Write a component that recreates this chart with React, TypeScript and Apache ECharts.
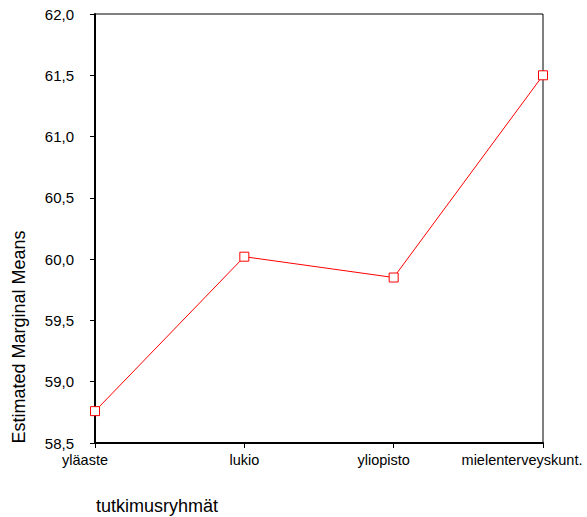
import React, { useEffect, useRef } from "react";
import * as echarts from "echarts";

const categories = ["yläaste", "lukio", "yliopisto", "mielenterveyskunt."];
const means = [58.76, 60.02, 59.85, 61.5];
const labelShift = [20, 0, 20, 42];
const yMin = 58.5;
const yMax = 62.0;
const yStep = 0.5;
const yTitle = "Estimated Marginal Means";
const xTitle = "tutkimusryhmät";

const FONT = "'Liberation Sans', Arial, sans-serif";

export default function App() {
  const ref = useRef<HTMLDivElement>(null);
  useEffect(() => {
    if (!ref.current) return;
    const chart = echarts.init(ref.current, undefined, { renderer: "svg" });
    chart.setOption({
      animation: false,
      backgroundColor: "#ffffff",
      grid: { left: 95, right: 44, top: 14, bottom: 74, containLabel: false },
      xAxis: {
        type: "category",
        boundaryGap: false,
        data: categories.map((c, i) => ({
          value: c,
          textStyle: { padding: [0, labelShift[i], 0, 0] },
        })),
        axisLine: { show: true, lineStyle: { color: "#000", width: 2 } },
        axisTick: { show: true, alignWithLabel: true, length: 5, lineStyle: { color: "#000", width: 1 } },
        axisLabel: { color: "#000", fontFamily: FONT, fontSize: 14.5, margin: 9, interval: 0 },
        splitLine: { show: false },
      },
      yAxis: {
        type: "value",
        min: yMin,
        max: yMax,
        interval: yStep,
        axisLine: { show: true, lineStyle: { color: "#000", width: 2 } },
        axisTick: { show: true, length: 5, lineStyle: { color: "#000", width: 1 } },
        axisLabel: {
          color: "#000",
          fontFamily: FONT,
          fontSize: 15,
          margin: 21,
          formatter: (v: number) => v.toFixed(1).replace(".", ","),
        },
        splitLine: { show: false },
      },
      graphic: [
        {
          type: "rect",
          shape: { x: 95, y: 14, width: 448, height: 429 },
          style: { fill: "none", stroke: "#000", lineWidth: 1 },
          silent: true,
          z: -1,
        },
        {
          type: "text",
          x: 19,
          y: 337,
          rotation: Math.PI / 2,
          style: {
            text: yTitle,
            fontFamily: FONT,
            fontSize: 18,
            fill: "#000",
            align: "center",
            verticalAlign: "middle",
          },
        },
        {
          type: "text",
          x: 96,
          y: 506,
          style: {
            text: xTitle,
            fontFamily: FONT,
            fontSize: 18,
            fill: "#000",
            align: "left",
            verticalAlign: "middle",
          },
        },
      ],
      series: [
        {
          type: "line",
          z: 10,
          data: means,
          symbol: "rect",
          symbolSize: 9,
          showSymbol: true,
          lineStyle: { color: "#ff0000", width: 1 },
          itemStyle: { color: "#ffffff", borderColor: "#ff0000", borderWidth: 1 },
          emphasis: { disabled: true },
        },
      ],
    });
    return () => chart.dispose();
  }, []);
  return <div ref={ref} style={{ width: 587, height: 517, position: "absolute", left: 0, top: 0 }} />;
}
